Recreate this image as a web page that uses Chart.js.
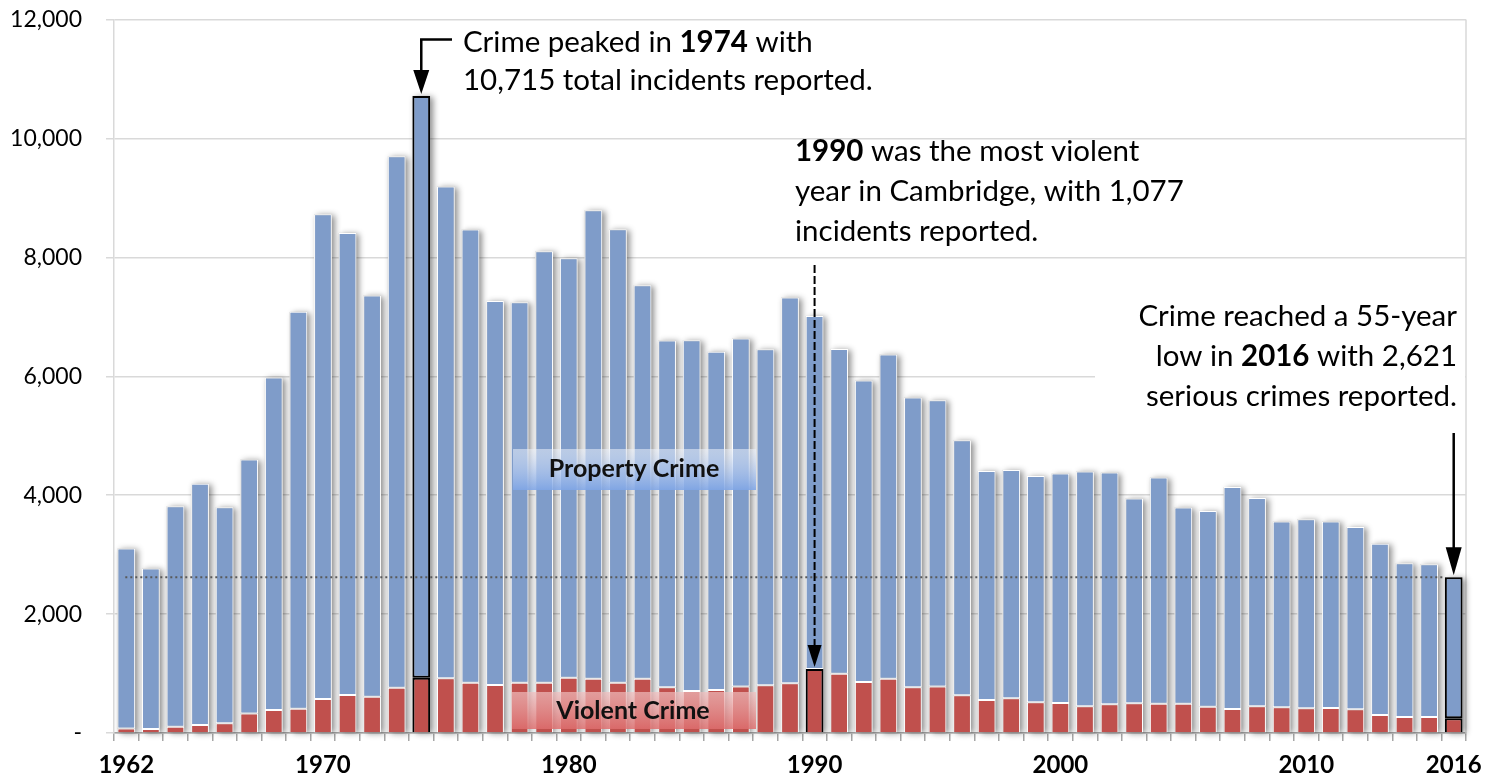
<!DOCTYPE html>
<html lang="en">
<head>
<meta charset="UTF-8">
<title>Serious crime in Cambridge, 1962-2016</title>
<script src="https://cdn.jsdelivr.net/npm/chart.js"></script>
<style>
  html, body { margin: 0; padding: 0; background: #ffffff; }
  #wrap { width: 1496px; height: 780px; }
</style>
</head>
<body>
<div id="wrap"><canvas id="crimeChart" width="1496" height="780"></canvas></div>
<script>
  // categories
  const years = ['1962','1963','1964','1965','1966','1967','1968','1969','1970','1971',
    '1972','1973','1974','1975','1976','1977','1978','1979','1980','1981',
    '1982','1983','1984','1985','1986','1987','1988','1989','1990','1991',
    '1992','1993','1994','1995','1996','1997','1998','1999','2000','2001',
    '2002','2003','2004','2005','2006','2007','2008','2009','2010','2011',
    '2012','2013','2014','2015','2016'];

  // series values (incidents reported)
  const violent = [77, 67, 106, 135, 162, 330, 387, 409, 572, 640,
    611, 763, 931, 919, 847, 808, 847, 847, 931, 914,
    847, 914, 770, 707, 724, 780, 803, 836, 1077, 998,
    857, 914, 770, 780, 634, 555, 584, 516, 505, 449,
    483, 500, 494, 494, 443, 404, 449, 432, 415, 421,
    398, 303, 269, 269, 247];
  const property = [3026, 2700, 3708, 4055, 3636, 4270, 5592, 6674, 8153, 7771,
    6747, 8937, 9784, 8272, 7621, 6459, 6398, 7256, 7054, 7878,
    7626, 6617, 5831, 5899, 5686, 5854, 5652, 6488, 5938, 5462,
    5071, 5452, 4872, 4817, 4290, 3853, 3841, 3808, 3859, 3949,
    3898, 3444, 3803, 3298, 3292, 3732, 3502, 3125, 3182, 3136,
    3065, 2879, 2588, 2571, 2374];

  // tick labels
  const labelYears = ['1962','1970','1980','1990','2000','2010','2016'];
  const yMax = 12000;
  const yStep = 2000;

  // highlighted years
  const peakYear = '1974';
  const violentYear = '1990';
  const lowYear = '2016';

  const blue = '#7F9CC9';
  const red = '#C0504D';
  const fontFamily = 'Lato, "Open Sans", sans-serif';
  const noteSize = 29.5;

  const iPeak = years.indexOf(peakYear);
  const iViolent = years.indexOf(violentYear);
  const iLow = years.indexOf(lowYear);
  const total = i => violent[i] + property[i];

  function drawRich(ctx, segs, x, y, size, align) {
    let w = 0;
    segs.forEach(s => {
      ctx.font = (s[1] ? 'bold ' : '') + size + 'px ' + fontFamily;
      w += ctx.measureText(s[0]).width;
    });
    let cx = align === 'right' ? x - w : x;
    ctx.textAlign = 'left';
    ctx.textBaseline = 'alphabetic';
    segs.forEach(s => {
      ctx.font = (s[1] ? 'bold ' : '') + size + 'px ' + fontFamily;
      ctx.fillText(s[0], cx, y);
      cx += ctx.measureText(s[0]).width;
    });
  }

  function arrowHead(ctx, x, tipY, w, h) {
    ctx.beginPath();
    ctx.moveTo(x - w / 2, tipY - h);
    ctx.lineTo(x + w / 2, tipY - h);
    ctx.lineTo(x, tipY);
    ctx.closePath();
    ctx.fill();
  }

  // soft shadow behind each stacked column, like the spreadsheet original
  const shadowPlugin = {
    id: 'columnShadow',
    beforeDatasetsDraw(chart) {
      const ctx = chart.ctx;
      const area = chart.chartArea;
      const metaR = chart.getDatasetMeta(0);
      const metaB = chart.getDatasetMeta(1);
      ctx.save();
      // plot border on the right
      ctx.strokeStyle = '#D9D9D9';
      ctx.lineWidth = 1.5;
      ctx.beginPath();
      ctx.moveTo(area.right, area.top);
      ctx.lineTo(area.right, area.bottom);
      ctx.stroke();
      ctx.shadowColor = 'rgba(0,0,0,0.45)';
      ctx.shadowBlur = 6;
      ctx.shadowOffsetX = 3;
      ctx.shadowOffsetY = 1;
      ctx.fillStyle = '#c8c8c8';
      metaB.data.forEach((bar, i) => {
        const r = metaR.data[i];
        ctx.fillRect(bar.x - bar.width / 2, bar.y, bar.width, r.base - bar.y);
      });
      ctx.restore();
    }
  };

  const notesPlugin = {
    id: 'notes',
    afterDatasetsDraw(chart) {
      const ctx = chart.ctx;
      const xs = chart.scales.x;
      const ys = chart.scales.y;
      const area = chart.chartArea;
      ctx.save();

      // dotted reference line at the 2016 total
      const lowY = ys.getPixelForValue(total(iLow));
      const lowBar = chart.getDatasetMeta(1).data[iLow];
      ctx.strokeStyle = '#595959';
      ctx.lineWidth = 2;
      ctx.setLineDash([2, 3]);
      ctx.beginPath();
      ctx.moveTo(xs.getPixelForValue(0) - 1, lowY);
      ctx.lineTo(lowBar.x - lowBar.width / 2, lowY);
      ctx.stroke();
      ctx.setLineDash([]);

      ctx.fillStyle = '#000';
      ctx.strokeStyle = '#000';

      // 1974 peak: elbow arrow
      const px = xs.getPixelForValue(iPeak);
      const pTip = ys.getPixelForValue(total(iPeak)) - 2;
      ctx.lineWidth = 2.5;
      ctx.beginPath();
      ctx.moveTo(452, 39.5);
      ctx.lineTo(px, 39.5);
      ctx.lineTo(px, pTip - 22);
      ctx.stroke();
      arrowHead(ctx, px, pTip, 16, 24);
      drawRich(ctx, [['Crime peaked in ', false], ['1974', true], [' with', false]], 463, 52, noteSize);
      drawRich(ctx, [['10,715 total incidents reported.', false]], 463, 90, noteSize);

      // 1990 most violent: dashed arrow
      const vx = xs.getPixelForValue(iViolent);
      const vTip = ys.getPixelForValue(violent[iViolent]) - 2;
      ctx.lineWidth = 2;
      ctx.setLineDash([8, 3]);
      ctx.beginPath();
      ctx.moveTo(vx, 265);
      ctx.lineTo(vx, vTip - 20);
      ctx.stroke();
      ctx.setLineDash([]);
      arrowHead(ctx, vx, vTip, 14, 22);
      drawRich(ctx, [['1990', true], [' was the most violent', false]], 795, 161, noteSize);
      drawRich(ctx, [['year in Cambridge, with 1,077', false]], 795, 201, noteSize);
      drawRich(ctx, [['incidents reported.', false]], 795, 241, noteSize);

      // 2016 low: white text box covering gridline, straight arrow
      ctx.fillStyle = '#ffffff';
      ctx.fillRect(1095, 298, area.right - 1 - 1095, 116);
      ctx.fillStyle = '#000';
      drawRich(ctx, [['Crime reached a 55-year', false]], 1457, 326, noteSize, 'right');
      drawRich(ctx, [['low in ', false], ['2016', true], [' with 2,621', false]], 1457, 366, noteSize, 'right');
      drawRich(ctx, [['serious crimes reported.', false]], 1457, 406, noteSize, 'right');
      const lx = xs.getPixelForValue(iLow);
      ctx.lineWidth = 2.5;
      ctx.beginPath();
      ctx.moveTo(lx, 433);
      ctx.lineTo(lx, lowY - 2 - 26);
      ctx.stroke();
      arrowHead(ctx, lx, lowY - 2, 16, 28);

      // series labels
      let g = ctx.createLinearGradient(0, 449, 0, 490);
      g.addColorStop(0, 'rgba(236,242,252,0.55)');
      g.addColorStop(1, 'rgba(128,166,230,0.9)');
      ctx.fillStyle = g;
      ctx.fillRect(513, 449, 243, 41);
      ctx.fillStyle = '#111';
      ctx.font = 'bold 25px ' + fontFamily;
      ctx.textAlign = 'center';
      ctx.textBaseline = 'middle';
      ctx.fillText('Property Crime', 634, 469);

      g = ctx.createLinearGradient(0, 692, 0, 729);
      g.addColorStop(0, 'rgba(240,190,190,0.7)');
      g.addColorStop(1, 'rgba(222,110,110,0.85)');
      ctx.fillStyle = g;
      ctx.fillRect(512, 692, 244, 37);
      ctx.fillStyle = '#111';
      ctx.fillText('Violent Crime', 633, 711);

      ctx.restore();
    }
  };

  const ctx = document.getElementById('crimeChart').getContext('2d');
  new Chart(ctx, {
    type: 'bar',
    data: {
      labels: years,
      datasets: [
        {
          label: 'Violent Crime',
          data: violent,
          backgroundColor: red,
          borderColor: c => (years[c.dataIndex] === peakYear || years[c.dataIndex] === violentYear || years[c.dataIndex] === lowYear) ? '#000' : '#ffffff',
          borderWidth: c => (years[c.dataIndex] === peakYear || years[c.dataIndex] === violentYear || years[c.dataIndex] === lowYear) ? 2 : 1,
          borderSkipped: 'start',
          barPercentage: 0.72,
          categoryPercentage: 1
        },
        {
          label: 'Property Crime',
          data: property,
          backgroundColor: blue,
          borderColor: c => (years[c.dataIndex] === peakYear || years[c.dataIndex] === lowYear) ? '#000' : '#ffffff',
          borderWidth: c => (years[c.dataIndex] === peakYear || years[c.dataIndex] === lowYear) ? 2 : 1,
          borderSkipped: false,
          barPercentage: 0.72,
          categoryPercentage: 1
        }
      ]
    },
    options: {
      responsive: false,
      animation: false,
      devicePixelRatio: 1,
      layout: { padding: { left: 10, right: 30, top: 19.5, bottom: 0 } },
      plugins: {
        legend: { display: false },
        tooltip: { enabled: false }
      },
      scales: {
        x: {
          stacked: true,
          ticks: {
            autoSkip: false,
            maxRotation: 0,
            minRotation: 0,
            callback: (v, i) => labelYears.includes(years[i]) ? years[i] : '',
            font: { family: fontFamily, size: 24, weight: 'bold' },
            color: '#000',
            padding: 10
          },
          grid: { drawOnChartArea: false, offset: true, tickLength: 8, color: '#A6A6A6', lineWidth: 1.5 },
          border: { color: '#A6A6A6', width: 1.5 },
          afterFit: s => { s.height = 47; }
        },
        y: {
          stacked: true,
          min: 0,
          max: yMax,
          ticks: {
            stepSize: yStep,
            callback: v => v === 0 ? '-' : v.toLocaleString('en-US'),
            font: { family: fontFamily, size: 23 },
            color: '#000',
            padding: 24
          },
          grid: { color: '#D9D9D9', lineWidth: 1.5, tickLength: 8 },
          border: { color: '#D9D9D9', width: 1.5 },
          afterFit: s => { s.width = 104; s.paddingTop = 0; s.paddingBottom = 0; }
        }
      }
    },
    plugins: [shadowPlugin, notesPlugin]
  });
</script>
</body>
</html>
